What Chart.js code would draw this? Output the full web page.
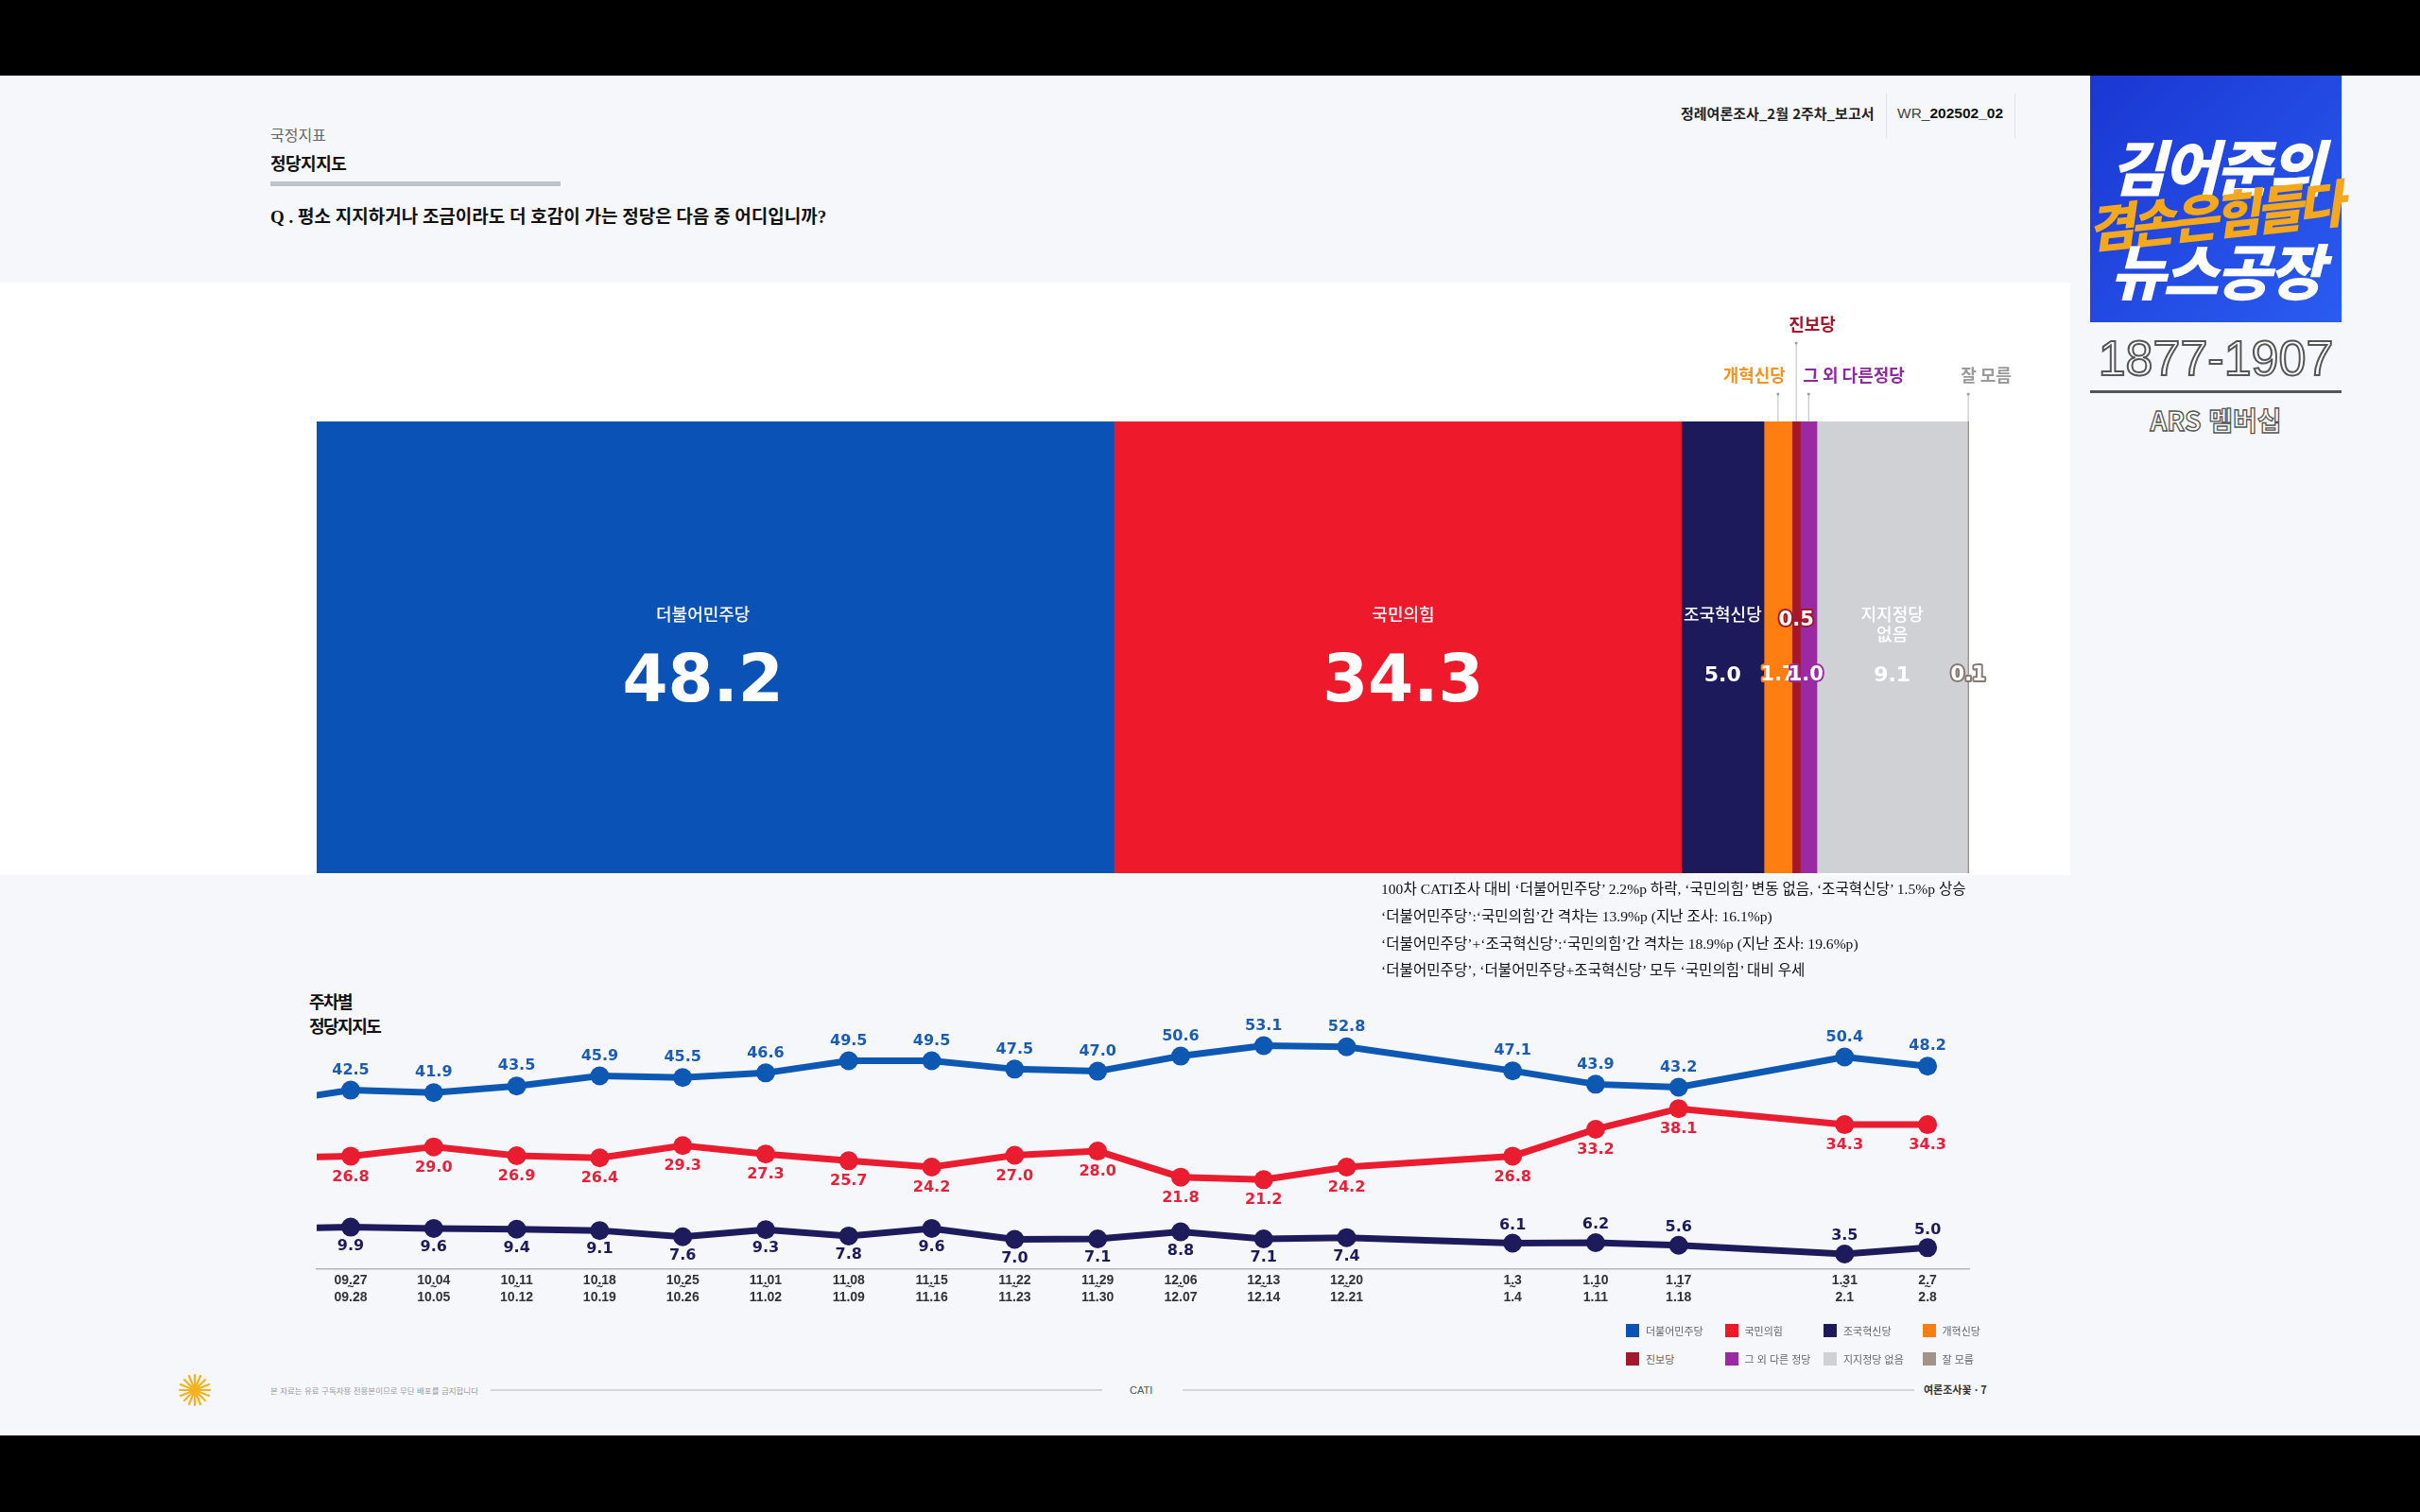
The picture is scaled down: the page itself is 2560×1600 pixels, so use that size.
<!DOCTYPE html>
<html lang="ko">
<head>
<meta charset="utf-8">
<title>정당지지도</title>
<script src="https://cdn.jsdelivr.net/npm/chart.js@4.4.1/dist/chart.umd.min.js"></script>
<style>
  html, body { margin: 0; padding: 0; }
  body { width: 2560px; height: 1600px; background: #000; position: relative; overflow: hidden;
         font-family: 'Noto Sans CJK KR', sans-serif; }
  .abs { position: absolute; white-space: nowrap; }
  .page { left: 0; top: 80px; width: 2560px; height: 1439px; background: #f6f7fa; }
  .panel { left: 0; top: 299px; width: 2190px; height: 627px; background: #ffffff; }
  .serif { font-family: 'Liberation Serif', 'Noto Sans CJK KR', serif; }
  .hline { height: 2px; background: #d3d6dc; }
  .legend-item { font-size: 11px; color: #666; display: flex; align-items: center; }
  .legend-item i { display: inline-block; width: 14px; height: 14px; margin-right: 7px; }
  .logo { left: 2211px; top: 80px; width: 266px; height: 261px;
          background: linear-gradient(135deg, #1a37d2 0%, #2a5cf0 100%); overflow: visible; }
  .logo div { position: absolute; width: 100%; text-align: center; font-weight: 900; font-style: italic; }
</style>
</head>
<body>
<div class="abs page"></div>
<div class="abs panel"></div>

<!-- 머리말 -->
<div class="abs" style="left:286px;top:133px;font-size:16px;line-height:18px;color:#666;">국정지표</div>
<div class="abs" style="left:286px;top:162px;font-size:18px;line-height:20px;font-weight:700;color:#111;letter-spacing:-0.5px;">정당지지도</div>
<div class="abs" style="left:286px;top:192px;width:307px;height:5px;background:#bfc3cb;"></div>
<div class="abs serif" style="left:286px;top:219px;font-size:19px;line-height:22px;font-weight:700;color:#111;">Q . 평소 지지하거나 조금이라도 더 호감이 가는 정당은 다음 중 어디입니까?</div>

<div class="abs" style="left:1778px;top:111px;font-size:15px;line-height:18px;font-weight:700;color:#222;">정례여론조사_2월 2주차_보고서</div>
<div class="abs" style="left:1995px;top:98px;width:1px;height:48px;background:#e1e3e8;"></div>
<div class="abs" style="left:2007px;top:111px;font-size:15.5px;line-height:18px;color:#444;font-family:'Liberation Sans',sans-serif;">WR_<b style="color:#111">202502_02</b></div>
<div class="abs" style="left:2131px;top:98px;width:1px;height:48px;background:#e1e3e8;"></div>

<!-- 로고 -->
<div class="abs logo">
  <div style="top:48px;font-size:64px;color:#fff;letter-spacing:-3px;">김어준의</div>
  <div style="top:106px;left:-30px;width:320px;font-size:54px;color:#f6a81c;letter-spacing:-5px;transform:rotate(-6deg);">겸손은힘들다</div>
  <div style="top:158px;font-size:64px;color:#fff;letter-spacing:-3px;">뉴스공장</div>
</div>
<div class="abs" style="left:2211px;top:350px;width:266px;text-align:center;font-family:'Liberation Sans',sans-serif;font-size:52px;line-height:58px;color:#fff;-webkit-text-stroke:2px #555;">1877-1907</div>
<div class="abs" style="left:2211px;top:413px;width:266px;height:3px;background:#555;"></div>
<div class="abs" style="left:2211px;top:428px;width:266px;text-align:center;font-size:28px;line-height:32px;color:#fff;-webkit-text-stroke:1.3px #555;font-weight:700;">ARS 멤버십</div>

<!-- 전체 막대 -->
<div class="abs" style="left:300px;top:300px;width:1900px;height:640px;">
  <canvas id="shareChart" width="1900" height="640"></canvas>
</div>

<!-- 요약 -->
<div class="abs serif" style="left:1461px;top:927px;font-size:15.6px;line-height:28.8px;color:#111;">
  100차 CATI조사 대비 ‘더불어민주당’ 2.2%p 하락, ‘국민의힘’ 변동 없음, ‘조국혁신당’ 1.5%p 상승<br>
  ‘더불어민주당’:‘국민의힘’간 격차는 13.9%p (지난 조사: 16.1%p)<br>
  ‘더불어민주당’+‘조국혁신당’:‘국민의힘’간 격차는 18.9%p (지난 조사: 19.6%p)<br>
  ‘더불어민주당’, ‘더불어민주당+조국혁신당’ 모두 ‘국민의힘’ 대비 우세
</div>

<!-- 주차별 -->
<div class="abs" style="left:327px;top:1046px;font-size:18px;line-height:26px;font-weight:700;color:#111;letter-spacing:-1.5px;">주차별<br>정당지지도</div>
<div class="abs" style="left:300px;top:1030px;width:1820px;height:390px;">
  <canvas id="trendChart" width="1820" height="390"></canvas>
</div>

<!-- 범례 -->
<div class="abs" id="legend" style="left:1720px;top:1400px;width:420px;"></div>

<!-- 바닥글 -->
<svg class="abs" style="left:188px;top:1453px;" width="36" height="36" viewBox="-18 -18 36 36">
  <g stroke="#f5b21d" stroke-width="2.2" stroke-linecap="round">
    <line x1="0" y1="-16" x2="0" y2="16"/><line x1="-16" y1="0" x2="16" y2="0"/>
    <line x1="-11" y1="-11" x2="11" y2="11"/><line x1="-11" y1="11" x2="11" y2="-11"/>
    <line x1="-6" y1="-15" x2="6" y2="15"/><line x1="6" y1="-15" x2="-6" y2="15"/>
    <line x1="-15" y1="-6" x2="15" y2="6"/><line x1="-15" y1="6" x2="15" y2="-6"/>
  </g>
</svg>
<div class="abs" style="left:286px;top:1465px;font-size:8.5px;line-height:12px;color:#999;">본 자료는 유료 구독자용 전용본이므로 무단 배포를 금지합니다</div>
<div class="abs hline" style="left:519px;top:1470px;width:647px;"></div>
<div class="abs" style="left:1195px;top:1464px;font-size:11px;line-height:14px;color:#555;font-family:'Liberation Sans',sans-serif;">CATI</div>
<div class="abs hline" style="left:1251px;top:1470px;width:774px;"></div>
<div class="abs" style="left:2035px;top:1463px;font-size:11px;line-height:15px;color:#333;font-weight:700;">여론조사꽃 · 7</div>

<script>
// 이번 주 정당지지도 (%)
const partyNames = ['더불어민주당', '국민의힘', '조국혁신당', '개혁신당', '진보당', '그 외 다른정당', '지지정당 없음', '잘 모름'];
const partyShares = [48.2, 34.3, 5.0, 1.7, 0.5, 1.0, 9.1, 0.1];
const partyColors = ['#0a52b5', '#ee1a2b', '#1d1a5c', '#ff7e12', '#a5172b', '#9a2aa2', '#cfd1d5', '#a19388'];
const legendNames = ['더불어민주당', '국민의힘', '조국혁신당', '개혁신당', '진보당', '그 외 다른 정당', '지지정당 없음', '잘 모름'];

// 주차별 추이 (첫 칸은 화면 왼쪽 밖 이전 조사, 선만 보임)
const surveyDates = ['2024-09-20', '2024-09-27', '2024-10-04', '2024-10-11', '2024-10-18', '2024-10-25', '2024-11-01',
    '2024-11-08', '2024-11-15', '2024-11-22', '2024-11-29', '2024-12-06', '2024-12-13', '2024-12-20',
    '2025-01-03', '2025-01-10', '2025-01-17', '2025-01-31', '2025-02-07'];
const tickStart = ['09.20', '09.27', '10.04', '10.11', '10.18', '10.25', '11.01', '11.08', '11.15', '11.22', '11.29',
    '12.06', '12.13', '12.20', '1.3', '1.10', '1.17', '1.31', '2.7'];
const tickEnd = ['09.21', '09.28', '10.05', '10.12', '10.19', '10.26', '11.02', '11.09', '11.16', '11.23', '11.30',
    '12.07', '12.14', '12.21', '1.4', '1.11', '1.18', '2.1', '2.8'];
const minjuTrend = [39.5, 42.5, 41.9, 43.5, 45.9, 45.5, 46.6, 49.5, 49.5, 47.5, 47.0, 50.6, 53.1, 52.8, 47.1, 43.9, 43.2, 50.4, 48.2];
const ppTrend = [26.3, 26.8, 29.0, 26.9, 26.4, 29.3, 27.3, 25.7, 24.2, 27.0, 28.0, 21.8, 21.2, 24.2, 26.8, 33.2, 38.1, 34.3, 34.3];
const rebuildTrend = [9.5, 9.9, 9.6, 9.4, 9.1, 7.6, 9.3, 7.8, 9.6, 7.0, 7.1, 8.8, 7.1, 7.4, 6.1, 6.2, 5.6, 3.5, 5.0];

const DAY = 864e5;
const weekX = surveyDates.map(d => Math.round((Date.parse(d) - Date.parse(surveyDates[1])) / (7 * DAY)));

// 범례
document.getElementById('legend').innerHTML = legendNames.map((n, i) =>
    `<div class="abs legend-item" style="left:${(i % 4) * 104.5}px;top:${Math.floor(i / 4) * 30}px;">` +
    `<i style="background:${partyColors[i]}"></i>${n}</div>`).join('');

// 막대 위/안 라벨 위치
const barLabels = [
    { name: '더불어민주당', nameDy: -35, valueDy: 39, big: true, cx: -13 },
    { name: '국민의힘', nameDy: -35, valueDy: 39, big: true, cx: 6 },
    { name: '조국혁신당', nameDy: -35, valueDy: 30 },
    { callout: '개혁신당', calloutY: -49, lineTop: -29, align: 'right', dx: 8, valueDy: 30, outline: true },
    { callout: '진보당', calloutY: -103, lineTop: -83, align: 'left', dx: -8, valueDy: -28, outline: true },
    { callout: '그 외 다른정당', calloutY: -49, lineTop: -29, align: 'left', dx: -6, valueDy: 30, outline: true, cx: -3 },
    { name: ['지지정당', '없음'], nameDy: -35, valueDy: 30 },
    { callout: '잘 모름', calloutY: -49, lineTop: -29, align: 'left', dx: -8, valueDy: 30, outline: true, stroke: '#857a72' }
];
const calloutColors = { 3: '#f7931e', 4: '#a3182c', 5: '#8e2aa0', 7: '#9a9a9a' };

const barLabelPlugin = {
    id: 'barLabels',
    afterDatasetsDraw(chart) {
        const ctx = chart.ctx;
        const area = chart.chartArea;
        const mid = (area.top + area.bottom) / 2;
        ctx.save();
        ctx.textBaseline = 'middle';
        chart.data.datasets.forEach((ds, i) => {
            const bar = chart.getDatasetMeta(i).data[0];
            const barMid = (bar.x + bar.base) / 2;
            const st = barLabels[i];
            const cx = barMid + (st.cx || 0);
            const value = ds.data[0].toFixed(1);

            if (st.name) {
                ctx.fillStyle = '#fff';
                ctx.textAlign = 'center';
                ctx.font = '500 18px "Noto Sans CJK KR"';
                const lines = Array.isArray(st.name) ? st.name : [st.name];
                lines.forEach((t, k) => ctx.fillText(t, cx, mid + st.nameDy + k * 21));
            }
            if (st.callout) {
                ctx.strokeStyle = '#b9bcc2';
                ctx.lineWidth = 1;
                ctx.beginPath();
                ctx.moveTo(barMid, area.top + st.lineTop);
                ctx.lineTo(barMid, area.top);
                ctx.stroke();
                ctx.fillStyle = '#9a9da3';
                ctx.beginPath();
                ctx.arc(barMid, area.top + st.lineTop, 1.5, 0, Math.PI * 2);
                ctx.fill();
                ctx.fillStyle = calloutColors[i];
                ctx.font = 'bold 18px "Noto Sans CJK KR"';
                ctx.textAlign = st.align;
                ctx.fillText(st.callout, barMid + st.dx, area.top + st.calloutY);
            }

            ctx.textAlign = 'center';
            if (st.big) {
                ctx.font = 'bold 69px "DejaVu Sans"';
                ctx.fillStyle = '#fff';
                ctx.fillText(value, cx, mid + st.valueDy);
            } else if (st.outline) {
                ctx.font = 'bold 21px "DejaVu Sans"';
                ctx.lineJoin = 'round';
                ctx.lineWidth = 4;
                ctx.strokeStyle = st.stroke || ds.backgroundColor;
                ctx.strokeText(value, cx, mid + st.valueDy);
                ctx.fillStyle = '#fff';
                ctx.fillText(value, cx, mid + st.valueDy);
            } else {
                ctx.font = 'bold 22px "DejaVu Sans"';
                ctx.fillStyle = '#fff';
                ctx.fillText(value, cx, mid + st.valueDy);
            }
        });
        ctx.restore();
    }
};

const shareTotal = partyShares.reduce((a, b) => a + b, 0);

new Chart(document.getElementById('shareChart'), {
    type: 'bar',
    data: {
        labels: ['이번 조사'],
        datasets: partyNames.map((n, i) => ({
            label: n,
            data: [partyShares[i]],
            backgroundColor: partyColors[i],
            borderWidth: 0,
            barPercentage: 1,
            categoryPercentage: 1
        }))
    },
    options: {
        indexAxis: 'y',
        responsive: false,
        animation: false,
        layout: { padding: { left: 35, right: 117, top: 146, bottom: 16 } },
        plugins: { legend: { display: false }, tooltip: { enabled: false } },
        scales: {
            x: { stacked: true, display: false, min: 0, max: shareTotal },
            y: { stacked: true, display: false }
        }
    },
    plugins: [barLabelPlugin]
});

// 주차별 라벨
const TICK_PAD = 3;
const TICK_FONT = { family: 'Liberation Sans', size: 14, weight: 'bold', lineHeight: 1.3 };

const lineLabelPlugin = {
    id: 'lineLabels',
    afterDatasetsDraw(chart) {
        const ctx = chart.ctx;
        ctx.save();
        ctx.font = 'bold 16px "DejaVu Sans"';
        ctx.textAlign = 'center';
        ctx.textBaseline = 'middle';
        chart.data.datasets.forEach((ds, di) => {
            const meta = chart.getDatasetMeta(di);
            meta.data.forEach((pt, i) => {
                if (i === 0) return;
                const dy = ds.labelOffset(i);
                ctx.fillStyle = ds.labelColor;
                ctx.fillText(ds.data[i].y.toFixed(1), pt.x, pt.y + dy);
            });
        });
        // 날짜 사이 물결표
        const xs = chart.scales.x;
        const tildeY = xs.top + TICK_PAD + TICK_FONT.size * TICK_FONT.lineHeight - 1;
        ctx.font = 'bold 10px "DejaVu Sans"';
        ctx.fillStyle = '#333';
        weekX.forEach((w, i) => {
            if (i === 0) return;
            ctx.fillText('~', xs.getPixelForValue(w), tildeY);
        });
        ctx.restore();
    }
};

function trendSeries(label, values, color, labelColor, labelOffset) {
    return {
        label: label,
        data: weekX.map((x, i) => ({ x: x, y: values[i] })),
        borderColor: color,
        backgroundColor: color,
        borderWidth: 7,
        pointRadius: 10,
        pointHoverRadius: 10,
        pointBorderWidth: 0,
        pointBackgroundColor: color,
        tension: 0,
        clip: { left: 0, right: false, top: false, bottom: false },
        labelColor: labelColor,
        labelOffset: labelOffset
    };
}

new Chart(document.getElementById('trendChart'), {
    type: 'line',
    data: {
        datasets: [
            trendSeries('더불어민주당', minjuTrend, '#0d58b3', '#1b5db2', () => -21),
            trendSeries('국민의힘', ppTrend, '#ea1c30', '#e8203a', () => 22),
            trendSeries('조국혁신당', rebuildTrend, '#1e1b5c', '#1e1b5c', i => surveyDates[i].startsWith('2025') ? -19 : 20)
        ]
    },
    options: {
        responsive: false,
        animation: false,
        layout: { padding: { left: 35, right: 37, top: 48, bottom: 35 } },
        plugins: { legend: { display: false }, tooltip: { enabled: false } },
        scales: {
            x: {
                type: 'linear',
                min: -0.41,
                max: 19.5,
                grid: { display: false, drawTicks: false },
                border: { display: true, color: '#b3b6bb', width: 1.5 },
                afterBuildTicks: scale => {
                    scale.ticks = weekX.slice(1).map(v => ({ value: v }));
                },
                ticks: {
                    autoSkip: false,
                    maxRotation: 0,
                    padding: TICK_PAD,
                    color: '#333',
                    font: TICK_FONT,
                    callback: value => {
                        const i = weekX.indexOf(value);
                        return i < 1 ? '' : [tickStart[i], tickEnd[i]];
                    }
                }
            },
            y: { display: false, min: 0, max: 59.5 }
        }
    },
    plugins: [lineLabelPlugin]
});
</script>
</body>
</html>
